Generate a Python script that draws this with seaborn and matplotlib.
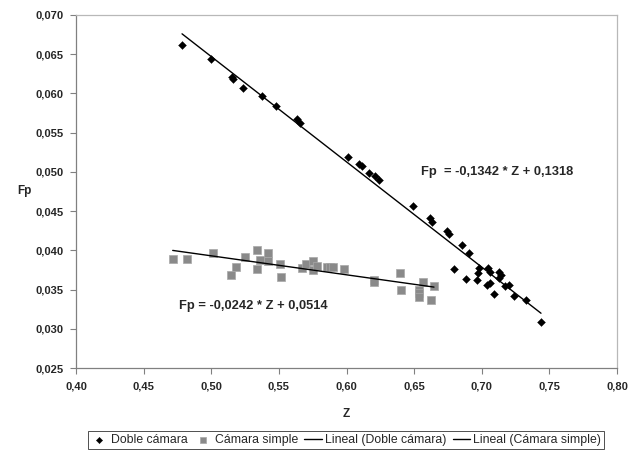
import numpy as np
import pandas as pd
import matplotlib
matplotlib.use('Agg')
import matplotlib.pyplot as plt
import seaborn as sns

# Doble cámara
z_doble = [0.4784, 0.4998, 0.5153, 0.5161, 0.5235, 0.5375, 0.5479, 0.5634, 0.5656,
           0.6011, 0.6092, 0.6115, 0.6166, 0.6211, 0.6240, 0.6492, 0.6617, 0.6632,
           0.6743, 0.6758, 0.6854, 0.6906, 0.6795, 0.6884, 0.6965, 0.6980, 0.6972,
           0.7046, 0.7061, 0.7039, 0.7061, 0.7091, 0.7128, 0.7142, 0.7128, 0.7172,
           0.7202, 0.7238, 0.7327, 0.7438]
fp_doble = [0.0662, 0.0644, 0.0621, 0.0618, 0.0607, 0.0597, 0.0584, 0.0567, 0.0562,
            0.0519, 0.0510, 0.0508, 0.0499, 0.0495, 0.0490, 0.0457, 0.0441, 0.0436,
            0.0425, 0.0421, 0.0407, 0.0397, 0.0376, 0.0363, 0.0362, 0.0377, 0.0371,
            0.0377, 0.0372, 0.0356, 0.0358, 0.0344, 0.0372, 0.0369, 0.0365, 0.0355,
            0.0356, 0.0342, 0.0337, 0.0309]

# Cámara simple
z_simple = [0.4715, 0.4818, 0.5011, 0.5183, 0.5146, 0.5250, 0.5336, 0.5417, 0.5360,
            0.5422, 0.5336, 0.5508, 0.5514, 0.5669, 0.5698, 0.5752, 0.5752, 0.5782,
            0.5856, 0.5878, 0.5900, 0.5982, 0.6203, 0.6203, 0.6396, 0.6401, 0.6538,
            0.6538, 0.6538, 0.6568, 0.6647, 0.6623]
fp_simple = [0.0389, 0.0389, 0.0397, 0.0379, 0.0369, 0.0392, 0.0400, 0.0397, 0.0388,
             0.0386, 0.0376, 0.0382, 0.0366, 0.0378, 0.0383, 0.0386, 0.0375, 0.0380,
             0.0379, 0.0379, 0.0379, 0.0376, 0.0362, 0.0359, 0.0371, 0.0349, 0.0350,
             0.0345, 0.0341, 0.0359, 0.0355, 0.0337]

# trend lines as printed on the chart
slope_doble, icpt_doble = -0.1342, 0.1318
slope_simple, icpt_simple = -0.0242, 0.0514
eq_doble = 'Fp  = -0,1342 * Z + 0,1318'
eq_simple = 'Fp = -0,0242 * Z + 0,0514'

x_ticks = [0.40, 0.45, 0.50, 0.55, 0.60, 0.65, 0.70, 0.75, 0.80]
x_labels = ['0,40', '0,45', '0,50', '0,55', '0,60', '0,65', '0,70', '0,75', '0,80']
y_ticks = [0.025, 0.030, 0.035, 0.040, 0.045, 0.050, 0.055, 0.060, 0.065, 0.070]
y_labels = ['0,025', '0,030', '0,035', '0,040', '0,045', '0,050', '0,055', '0,060',
            '0,065', '0,070']

sns.set_style('white')
plt.rcParams['font.family'] = ['Liberation Sans', 'DejaVu Sans']

df_d = pd.DataFrame({'Z': z_doble, 'Fp': fp_doble})
df_s = pd.DataFrame({'Z': z_simple, 'Fp': fp_simple})

zl_d = np.array([min(z_doble), max(z_doble)])
zl_s = np.array([min(z_simple), max(z_simple)])
line_d = pd.DataFrame({'Z': zl_d, 'Fp': slope_doble * zl_d + icpt_doble})
line_s = pd.DataFrame({'Z': zl_s, 'Fp': slope_simple * zl_s + icpt_simple})

fig = plt.figure(figsize=(6.29, 4.54), dpi=100)
ax = fig.add_axes([76/629, 1-368/454, 541/629, 353/454])

sns.scatterplot(data=df_d, x='Z', y='Fp', marker='D', s=16, color='black',
                edgecolor='black', linewidth=0.3, ax=ax, label='Doble cámara', zorder=3)
sns.scatterplot(data=df_s, x='Z', y='Fp', marker='s', s=26, color='#8a8a8a',
                edgecolor='#a8a8a8', linewidth=0.5, ax=ax, label='Cámara simple', zorder=2)
sns.lineplot(data=line_d, x='Z', y='Fp', color='black', lw=1.0, ax=ax,
             label='Lineal (Doble cámara)', zorder=4)
sns.lineplot(data=line_s, x='Z', y='Fp', color='black', lw=1.0, ax=ax,
             label='Lineal (Cámara simple)', zorder=4)

ax.set_xlim(0.40, 0.80)
ax.set_ylim(0.025, 0.070)
ax.set_xticks(x_ticks)
ax.set_xticklabels(x_labels, fontweight='bold', fontsize=8)
ax.set_yticks(y_ticks)
ax.set_yticklabels(y_labels, fontweight='bold', fontsize=8)
ax.tick_params(axis='both', direction='out', length=4, width=0.8, color='#808080',
               bottom=True, left=True)
ax.tick_params(axis='x', pad=6)
ax.tick_params(axis='y', pad=5)
for side in ['left', 'bottom']:
    ax.spines[side].set_color('#808080')
    ax.spines[side].set_linewidth(0.9)
for side in ['top', 'right']:
    ax.spines[side].set_color('#b8b8b8')
    ax.spines[side].set_linewidth(0.9)

ax.set_xlabel('Z', fontweight='bold', fontsize=8.5)
ax.set_ylabel('Fp', fontweight='bold', fontsize=8.5, rotation=0, va='center', ha='center')
ax.xaxis.set_label_coords(0.5, -0.113)
ax.yaxis.set_label_coords(-0.096, 0.5)

ax.text(0.6551, 0.0500, eq_doble, fontsize=9.3, fontweight='bold', va='center', ha='left')
ax.text(0.4762, 0.03294, eq_simple, fontsize=9.3, fontweight='bold', va='center', ha='left')

handles, labels = ax.get_legend_handles_labels()
ax.get_legend().remove()
leg = fig.legend(handles, labels, loc='center', bbox_to_anchor=(346/629, 1-440/454),
                 ncol=4, fontsize=8.8, frameon=True, fancybox=False, edgecolor='black',
                 handlelength=1.4, handletextpad=0.3, columnspacing=0.5,
                 borderpad=0.25, markerscale=0.8)
leg.get_frame().set_linewidth(0.6)

fig.savefig('out.png', dpi=100)
